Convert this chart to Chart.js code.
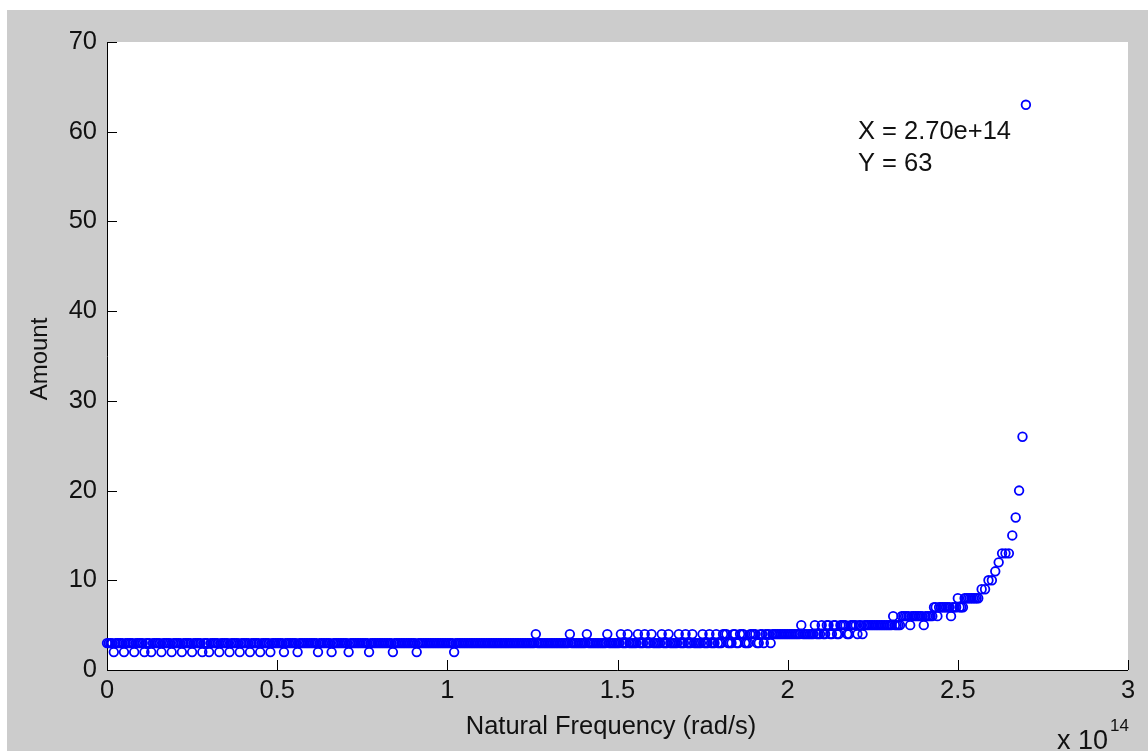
<!DOCTYPE html>
<html>
<head>
<meta charset="utf-8">
<title>Amount vs Natural Frequency</title>
<script src="https://cdn.jsdelivr.net/npm/chart.js@4.4.1/dist/chart.umd.min.js"></script>
<style>
  html, body { margin: 0; padding: 0; background: #ffffff; }
  #wrap { width: 1148px; height: 751px; position: relative; }
</style>
</head>
<body>
<div id="wrap"><canvas id="c" width="1148" height="751"></canvas></div>
<script>
// Natural frequencies, in units of 1e14 rad/s
const freq = [
  0.000, 0.005, 0.010, 0.015, 0.020, 0.025, 0.030, 0.035, 0.040, 0.045,
  0.050, 0.055, 0.060, 0.065, 0.070, 0.075, 0.080, 0.085, 0.090, 0.095,
  0.100, 0.105, 0.110, 0.115, 0.120, 0.125, 0.130, 0.135, 0.140, 0.145,
  0.150, 0.155, 0.160, 0.165, 0.170, 0.175, 0.180, 0.185, 0.190, 0.195,
  0.200, 0.205, 0.210, 0.215, 0.220, 0.225, 0.230, 0.235, 0.240, 0.245,
  0.250, 0.255, 0.260, 0.265, 0.270, 0.275, 0.280, 0.285, 0.290, 0.295,
  0.300, 0.305, 0.310, 0.315, 0.320, 0.325, 0.330, 0.335, 0.340, 0.345,
  0.350, 0.355, 0.360, 0.365, 0.370, 0.375, 0.380, 0.385, 0.390, 0.395,
  0.400, 0.405, 0.410, 0.415, 0.420, 0.425, 0.430, 0.435, 0.440, 0.445,
  0.450, 0.455, 0.460, 0.465, 0.470, 0.475, 0.480, 0.485, 0.490, 0.495,
  0.500, 0.505, 0.510, 0.515, 0.520, 0.525, 0.530, 0.535, 0.540, 0.545,
  0.550, 0.555, 0.560, 0.565, 0.570, 0.575, 0.580, 0.585, 0.590, 0.595,
  0.600, 0.605, 0.610, 0.615, 0.620, 0.625, 0.630, 0.635, 0.640, 0.645,
  0.650, 0.655, 0.660, 0.665, 0.670, 0.675, 0.680, 0.685, 0.690, 0.695,
  0.700, 0.705, 0.710, 0.715, 0.720, 0.725, 0.730, 0.735, 0.740, 0.745,
  0.750, 0.755, 0.760, 0.765, 0.770, 0.775, 0.780, 0.785, 0.790, 0.795,
  0.800, 0.805, 0.810, 0.815, 0.820, 0.825, 0.830, 0.835, 0.840, 0.845,
  0.850, 0.855, 0.860, 0.865, 0.870, 0.875, 0.880, 0.885, 0.890, 0.895,
  0.900, 0.905, 0.910, 0.915, 0.920, 0.925, 0.930, 0.935, 0.940, 0.945,
  0.950, 0.955, 0.960, 0.965, 0.970, 0.975, 0.980, 0.985, 0.990, 0.995,
  1.000, 1.005, 1.010, 1.015, 1.020, 1.025, 1.030, 1.035, 1.040, 1.045,
  1.050, 1.055, 1.060, 1.065, 1.070, 1.075, 1.080, 1.085, 1.090, 1.095,
  1.100, 1.105, 1.110, 1.115, 1.120, 1.125, 1.130, 1.135, 1.140, 1.145,
  1.150, 1.155, 1.160, 1.165, 1.170, 1.175, 1.180, 1.185, 1.190, 1.195,
  1.200, 1.205, 1.210, 1.215, 1.220, 1.225, 1.230, 1.235, 1.240, 1.245,
  1.250, 1.255, 1.260, 1.265, 1.270, 1.275, 1.280, 1.285, 1.290, 1.295,
  1.300, 1.305, 1.310, 1.315, 1.320, 1.325, 1.330, 1.335, 1.340, 1.345,
  1.350, 1.355, 1.360, 1.365, 1.370, 1.375, 1.380, 1.385, 1.390, 1.395,
  1.400, 1.405, 1.410, 1.415, 1.420, 1.425, 1.430, 1.435, 1.440, 1.445,
  1.450, 1.455, 1.460, 1.465, 1.470, 1.475, 1.480, 1.485, 1.490, 1.495,
  1.500, 1.505, 1.510, 1.515, 1.520, 1.525, 1.530, 1.535, 1.540, 1.545,
  1.550, 1.555, 1.560, 1.565, 1.570, 1.575, 1.580, 1.585, 1.590, 1.595,
  1.600, 1.605, 1.610, 1.615, 1.620, 1.625, 1.630, 1.635, 1.640, 1.645,
  1.650, 1.655, 1.660, 1.665, 1.670, 1.675, 1.680, 1.685, 1.690, 1.695,
  1.700, 1.705, 1.710, 1.715, 1.720, 1.725, 1.730, 1.735, 1.740, 1.745,
  1.750, 1.755, 1.760, 1.765, 1.770, 1.775, 1.780, 1.785, 1.790, 1.795,
  1.800, 1.805, 1.810, 1.815, 1.820, 1.825, 1.830, 1.835, 1.840, 1.845,
  1.850, 1.855, 1.860, 1.865, 1.870, 1.875, 1.880, 1.885, 1.890, 1.895,
  1.900, 1.905, 1.910, 1.915, 1.920, 1.925, 1.930, 1.935, 1.940, 1.945,
  1.950, 1.955, 1.960, 1.965, 1.970, 1.975, 1.980, 1.985, 1.990, 1.995,
  2.000, 2.005, 2.010, 2.015, 2.020, 2.025, 2.030, 2.035, 2.040, 2.045,
  2.050, 2.055, 2.060, 2.065, 2.070, 2.075, 2.080, 2.085, 2.090, 2.095,
  2.100, 2.105, 2.110, 2.115, 2.120, 2.125, 2.130, 2.135, 2.140, 2.145,
  2.150, 2.155, 2.160, 2.165, 2.170, 2.175, 2.180, 2.185, 2.190, 2.195,
  2.200, 2.205, 2.210, 2.215, 2.220, 2.225, 2.230, 2.235, 2.240, 2.245,
  2.250, 2.255, 2.260, 2.265, 2.270, 2.275, 2.280, 2.285, 2.290, 2.295,
  2.300, 2.305, 2.310, 2.315, 2.320, 2.325, 2.330, 2.335, 2.340, 2.345,
  2.350, 2.355, 2.360, 2.365, 2.370, 2.375, 2.380, 2.385, 2.390, 2.395,
  2.400, 2.405, 2.410, 2.415, 2.420, 2.425, 2.430, 2.435, 2.440, 2.445,
  2.450, 2.455, 2.460, 2.465, 2.470, 2.475, 2.480, 2.485, 2.490, 2.495,
  2.500, 2.505, 2.510, 2.515, 2.520, 2.525, 2.530, 2.535, 2.540, 2.545,
  2.550, 2.555, 2.560, 2.570, 2.580, 2.590, 2.600, 2.610, 2.620, 2.630,
  2.640, 2.650, 2.660, 2.670, 2.680, 2.690, 2.700
];

// How many modes share each of those frequencies
const amount = [
  3, 3, 3, 3, 2, 3, 3, 3, 3, 3,
  2, 3, 3, 3, 3, 3, 2, 3, 3, 3,
  3, 3, 2, 3, 3, 3, 2, 3, 3, 3,
  3, 3, 2, 3, 3, 3, 3, 3, 2, 3,
  3, 3, 3, 3, 2, 3, 3, 3, 3, 3,
  2, 3, 3, 3, 3, 3, 2, 3, 3, 3,
  2, 3, 3, 3, 3, 3, 2, 3, 3, 3,
  3, 3, 2, 3, 3, 3, 3, 3, 2, 3,
  3, 3, 3, 3, 2, 3, 3, 3, 3, 3,
  2, 3, 3, 3, 3, 3, 2, 3, 3, 3,
  3, 3, 3, 3, 2, 3, 3, 3, 3, 3,
  3, 3, 2, 3, 3, 3, 3, 3, 3, 3,
  3, 3, 3, 3, 2, 3, 3, 3, 3, 3,
  3, 3, 2, 3, 3, 3, 3, 3, 3, 3,
  3, 3, 2, 3, 3, 3, 3, 3, 3, 3,
  3, 3, 3, 3, 2, 3, 3, 3, 3, 3,
  3, 3, 3, 3, 3, 3, 3, 3, 2, 3,
  3, 3, 3, 3, 3, 3, 3, 3, 3, 3,
  3, 3, 2, 3, 3, 3, 3, 3, 3, 3,
  3, 3, 3, 3, 3, 3, 3, 3, 3, 3,
  3, 3, 3, 3, 2, 3, 3, 3, 3, 3,
  3, 3, 3, 3, 3, 3, 3, 3, 3, 3,
  3, 3, 3, 3, 3, 3, 3, 3, 3, 3,
  3, 3, 3, 3, 3, 3, 3, 3, 3, 3,
  3, 3, 3, 3, 3, 3, 3, 3, 3, 3,
  3, 3, 4, 3, 3, 3, 3, 3, 3, 3,
  3, 3, 3, 3, 3, 3, 3, 3, 3, 3,
  3, 3, 4, 3, 3, 3, 3, 3, 3, 3,
  3, 3, 4, 3, 3, 3, 3, 3, 3, 3,
  3, 3, 3, 3, 4, 3, 3, 3, 3, 3,
  3, 3, 4, 3, 3, 3, 4, 3, 3, 3,
  3, 3, 4, 3, 3, 3, 4, 3, 3, 3,
  4, 3, 3, 3, 3, 3, 4, 3, 3, 3,
  4, 3, 3, 3, 3, 3, 4, 3, 3, 3,
  4, 3, 3, 3, 4, 3, 3, 3, 3, 3,
  4, 3, 3, 3, 4, 3, 3, 3, 4, 3,
  3, 3, 4, 4, 4, 3, 3, 3, 4, 4,
  3, 3, 4, 4, 4, 3, 3, 3, 4, 4,
  4, 4, 3, 3, 4, 4, 3, 4, 4, 4,
  3, 4, 4, 4, 4, 4, 4, 4, 4, 4,
  4, 4, 4, 4, 4, 4, 4, 4, 5, 4,
  4, 4, 4, 4, 4, 4, 5, 4, 4, 4,
  5, 4, 4, 5, 5, 4, 4, 5, 5, 4,
  4, 5, 5, 5, 5, 4, 4, 5, 5, 5,
  5, 4, 5, 5, 4, 5, 5, 5, 5, 5,
  5, 5, 5, 5, 5, 5, 5, 5, 5, 5,
  5, 5, 6, 5, 5, 5, 5, 6, 6, 6,
  6, 6, 5, 6, 6, 6, 6, 6, 6, 6,
  5, 6, 6, 6, 6, 6, 7, 7, 6, 7,
  7, 7, 7, 7, 7, 7, 6, 7, 7, 7,
  8, 7, 7, 7, 8, 8, 8, 8, 8, 8,
  8, 8, 8, 9, 9, 10, 10, 11, 12, 13,
  13, 13, 15, 17, 20, 26, 63
];

const xTicks = [0, 0.5, 1, 1.5, 2, 2.5, 3];
const yTicks = [0, 10, 20, 30, 40, 50, 60, 70];
const xTickLabels = ['0', '0.5', '1', '1.5', '2', '2.5', '3'];
const xTitle = 'Natural Frequency (rad/s)';
const yTitle = 'Amount';
const tipPoint = { x: 2.70, y: 63 };
const tipLines = ['X = 2.70e+14', 'Y = 63'];

const FONT = '"Liberation Sans", Arial, Helvetica, sans-serif';
const TEXT = '#111111';

const points = freq.map((f, i) => ({ x: f, y: amount[i] }));

// Figure background, white axes box, inward ticks and text annotations
const figure = {
  id: 'figure',
  beforeDraw(chart) {
    const { ctx, chartArea: a, width, height } = chart;
    ctx.save();
    ctx.fillStyle = '#ffffff';
    ctx.fillRect(0, 0, width, height);
    ctx.fillStyle = '#cccccc';
    ctx.fillRect(7, 10, width - 7, height - 10);
    ctx.fillStyle = '#ffffff';
    ctx.fillRect(a.left, a.top, a.right - a.left, a.bottom - a.top);
    ctx.restore();
  },
  beforeDatasetsDraw(chart) {
    const { ctx, chartArea: a, scales } = chart;
    const xs = scales.x, ys = scales.y;
    const L = 10;
    ctx.save();
    ctx.strokeStyle = '#000000';
    ctx.lineWidth = 1;
    ctx.beginPath();
    ctx.moveTo(a.left + 0.5, a.top);
    ctx.lineTo(a.left + 0.5, a.bottom + 0.5);
    ctx.lineTo(a.right, a.bottom + 0.5);
    ctx.stroke();
    ctx.beginPath();
    xTicks.forEach(v => {
      const px = Math.round(xs.getPixelForValue(v)) + 0.5;
      ctx.moveTo(px, a.bottom);
      ctx.lineTo(px, a.bottom - L);
    });
    yTicks.forEach(v => {
      const py = Math.round(ys.getPixelForValue(v)) + 0.5;
      ctx.moveTo(a.left, py);
      ctx.lineTo(a.left + L, py);
    });
    ctx.stroke();
    ctx.restore();
  },
  afterDraw(chart) {
    const { ctx, scales } = chart;
    const xs = scales.x, ys = scales.y;
    ctx.save();
    ctx.fillStyle = TEXT;
    // axis titles
    ctx.font = '25.5px ' + FONT;
    ctx.textAlign = 'center';
    ctx.textBaseline = 'middle';
    ctx.fillText(xTitle, 611, 727);
    ctx.save();
    ctx.translate(40, 359);
    ctx.rotate(-Math.PI / 2);
    ctx.font = '24px ' + FONT;
    ctx.fillText(yTitle, 0, 0);
    ctx.restore();
    // axis multiplier
    ctx.font = '27px ' + FONT;
    ctx.textBaseline = 'alphabetic';
    ctx.textAlign = 'left';
    ctx.fillText('x 10', 1057, 749);
    ctx.font = '17px ' + FONT;
    ctx.fillText('14', 1110, 731);
    // data tip text next to the peak
    const tx = xs.getPixelForValue(tipPoint.x) - 168;
    const ty = ys.getPixelForValue(tipPoint.y);
    ctx.font = '25.5px ' + FONT;
    ctx.textBaseline = 'middle';
    ctx.fillText(tipLines[0], tx, ty + 27);
    ctx.fillText(tipLines[1], tx, ty + 59);
    ctx.restore();
  }
};

new Chart(document.getElementById('c'), {
  type: 'scatter',
  data: {
    datasets: [{
      data: points,
      pointStyle: 'circle',
      pointRadius: 4.3,
      pointHoverRadius: 4.3,
      borderColor: '#0000ff',
      pointBorderColor: '#0000ff',
      backgroundColor: 'rgba(0,0,0,0)',
      pointBackgroundColor: 'rgba(0,0,0,0)',
      borderWidth: 1.8,
      pointBorderWidth: 1.8,
      clip: 8
    }]
  },
  options: {
    responsive: false,
    animation: false,
    events: [],
    layout: { padding: { left: 0, top: 42, right: 20, bottom: 0 } },
    plugins: { legend: { display: false }, tooltip: { enabled: false } },
    scales: {
      x: {
        type: 'linear',
        min: 0, max: 3,
        afterFit(s) { s.height = 81; },
        afterBuildTicks(s) { s.ticks = xTicks.map(v => ({ value: v })); },
        grid: { display: false, drawTicks: false },
        border: { display: false },
        ticks: {
          padding: 6,
          color: TEXT,
          font: { family: FONT, size: 25.5 },
          maxRotation: 0,
          callback: (v) => xTickLabels[xTicks.indexOf(v)]
        }
      },
      y: {
        type: 'linear',
        min: 0, max: 70,
        afterFit(s) { s.width = 107; },
        afterBuildTicks(s) { s.ticks = yTicks.map(v => ({ value: v })); },
        grid: { display: false, drawTicks: false },
        border: { display: false },
        ticks: {
          padding: 10,
          color: TEXT,
          font: { family: FONT, size: 25.5 }
        }
      }
    }
  },
  plugins: [figure]
});
</script>
</body>
</html>
